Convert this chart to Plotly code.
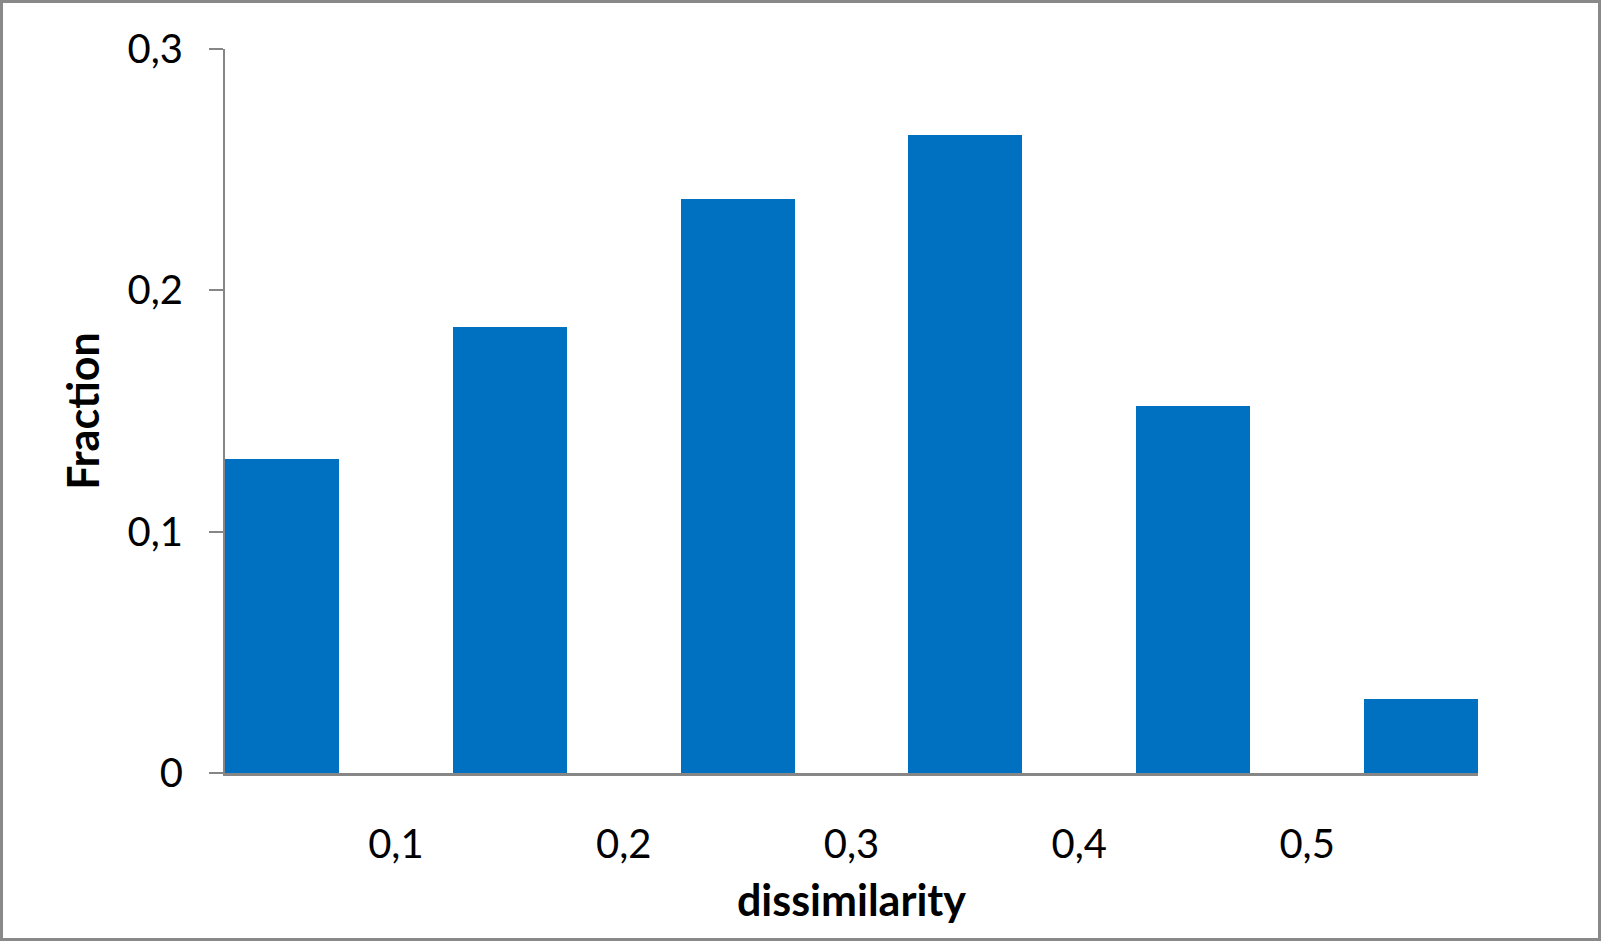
import plotly.graph_objects as go

# histogram of dissimilarity values
bin_centers = [0.05, 0.15, 0.25, 0.35, 0.45, 0.55]
fractions = [0.130, 0.185, 0.238, 0.2645, 0.152, 0.0306]
x_ticks = [0.1, 0.2, 0.3, 0.4, 0.5]
y_ticks = [0, 0.1, 0.2, 0.3]
y_labels = ["0", "0,1", "0,2", "0,3"]

axis_grey = "#868686"
font = "Lato"

fig = go.Figure()
fig.add_trace(go.Bar(x=bin_centers,
                     y=fractions,
                     width=0.05,
                     marker_color="#0070C0",
                     marker_line_width=0,
                     showlegend=False))

fig.update_xaxes(range=[0.025, 0.575],
                 tickvals=x_ticks,
                 tickformat=".1f",
                 ticks="",
                 showgrid=False,
                 zeroline=False,
                 showline=True,
                 linecolor=axis_grey,
                 linewidth=3,
                 ticklabelstandoff=34,
                 tickfont=dict(family=font, size=40, color="black"),
                 title=dict(text="<b>dissimilarity</b>",
                            font=dict(family=font, size=43, color="black"),
                            standoff=20))

fig.update_yaxes(range=[0, 0.3],
                 tickvals=y_ticks,
                 ticktext=y_labels,
                 ticks="outside",
                 ticklen=14,
                 tickwidth=2,
                 tickcolor=axis_grey,
                 showgrid=False,
                 zeroline=False,
                 showline=True,
                 linecolor=axis_grey,
                 linewidth=2,
                 ticklabelstandoff=18,
                 tickfont=dict(family=font, size=40, color="black"),
                 title=dict(text="<b>Fraction</b>",
                            font=dict(family=font, size=43, color="black"),
                            standoff=14))

fig.update_layout(
    width=1601,
    height=941,
    margin=dict(l=225, r=123, t=49, b=168, autoexpand=False),
    separators=",.",
    plot_bgcolor="white",
    paper_bgcolor="white",
    bargap=0,
    shapes=[dict(type="rect", xref="paper", yref="paper",
                 x0=-223.5 / 1253, x1=1 + 121.5 / 1253,
                 y0=-166.5 / 724, y1=1 + 47.5 / 724,
                 line=dict(color="#898989", width=3))],
)

# drop the browser's default page margin so the figure sits at the corner
fig.write_html("out.html",
               config={"displayModeBar": False},
               post_script="document.body.style.margin='0';")
